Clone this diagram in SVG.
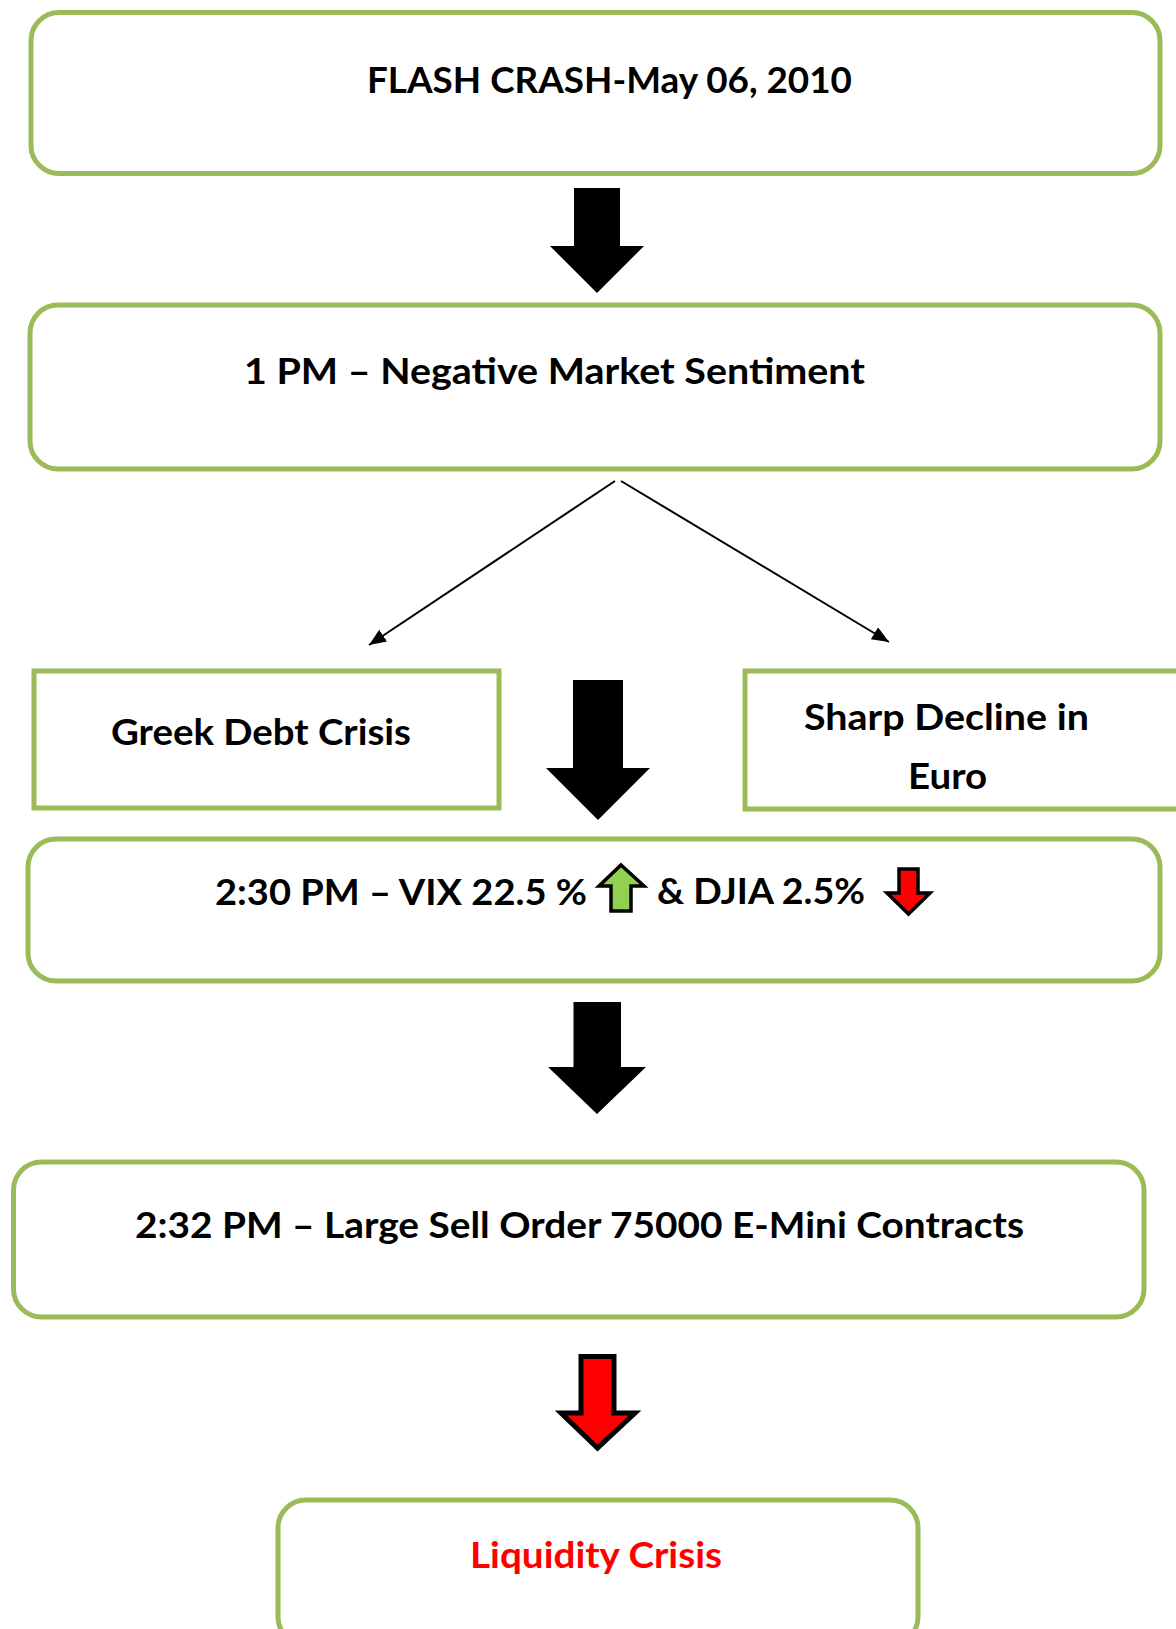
<svg xmlns="http://www.w3.org/2000/svg" width="1176" height="1629" viewBox="0 0 1176 1629">
<defs>
<style>
.box{fill:#fff;stroke:#9BBB59;stroke-width:5}
.t{font-family:Lato,"Open Sans","Liberation Sans",sans-serif;font-weight:bold;font-size:37px;fill:#000}
.red{fill:#FF0000}
.blk{fill:#000}
.conn{stroke:#000;stroke-width:2;fill:none}
</style>
<marker id="ah" markerUnits="userSpaceOnUse" markerWidth="20" markerHeight="16" refX="17" refY="7" orient="auto">
<path d="M0,0 L17,7 L0,14 Z" fill="#000"/>
</marker>
</defs>
<rect width="1176" height="1629" fill="#fff"/>

<g id="connectors">
<line class="conn" x1="615" y1="481" x2="369" y2="645" marker-end="url(#ah)"/>
<line class="conn" x1="621" y1="481" x2="889" y2="642" marker-end="url(#ah)"/>
<path class="blk" d="M574,188 H620 V246 H644 L597,293 L550,246 H574 Z"/>
<path class="blk" d="M573,680 H623 V768 H650 L598,820 L546,768 H573 Z"/>
<path class="blk" d="M573.5,1002 H621 V1067 H646 L597,1114 L548,1067 H573.5 Z"/>
<path d="M581,1356.5 H614 V1413 H635 L597.5,1448 L561,1413 H581 Z" fill="#FF0000" stroke="#000" stroke-width="5"/>
</g>

<g id="node-flash-crash">
<rect class="box" x="31" y="12.5" width="1129" height="161" rx="28"/>
<text class="t" x="367" y="93" textLength="485" lengthAdjust="spacingAndGlyphs">FLASH CRASH-May 06, 2010</text>
</g>

<g id="node-1pm">
<rect class="box" x="30" y="305" width="1130" height="164" rx="28"/>
<text class="t" x="244" y="384" textLength="621" lengthAdjust="spacingAndGlyphs">1 PM – Negative Market Sentiment</text>
</g>

<g id="node-greek">
<rect class="box" x="34" y="671" width="465" height="137"/>
<text class="t" x="111" y="745" textLength="300" lengthAdjust="spacingAndGlyphs">Greek Debt Crisis</text>
</g>

<g id="node-euro">
<rect class="box" x="745" y="671" width="445" height="138"/>
<text class="t" x="804" y="730" textLength="285" lengthAdjust="spacingAndGlyphs">Sharp Decline in</text>
<text class="t" x="908" y="789" textLength="79" lengthAdjust="spacingAndGlyphs">Euro</text>
</g>

<g id="node-230pm">
<rect class="box" x="28" y="839" width="1132" height="142" rx="28"/>
<text class="t" x="215" y="905" textLength="372" lengthAdjust="spacingAndGlyphs">2:30 PM – VIX 22.5 %</text>
<path d="M621,865 L644,886 H631 V911 H611 V886 H599 Z" fill="#92D050" stroke="#000" stroke-width="3.5" stroke-linejoin="miter"/>
<text class="t" x="657" y="904" textLength="208" lengthAdjust="spacingAndGlyphs">&amp; DJIA 2.5%</text>
<path d="M899,869 H918 V893 H930 L908.5,914 L887,893 H899 Z" fill="#FF0000" stroke="#000" stroke-width="3.5"/>
</g>

<g id="node-232pm">
<rect class="box" x="13.5" y="1162" width="1130.5" height="155" rx="28"/>
<text class="t" x="135" y="1238" textLength="889" lengthAdjust="spacingAndGlyphs">2:32 PM – Large Sell Order 75000 E-Mini Contracts</text>
</g>

<g id="node-liquidity">
<rect class="box" x="278" y="1500" width="640" height="145" rx="28"/>
<text class="t red" x="470" y="1568" textLength="252" lengthAdjust="spacingAndGlyphs">Liquidity Crisis</text>
</g>
</svg>
